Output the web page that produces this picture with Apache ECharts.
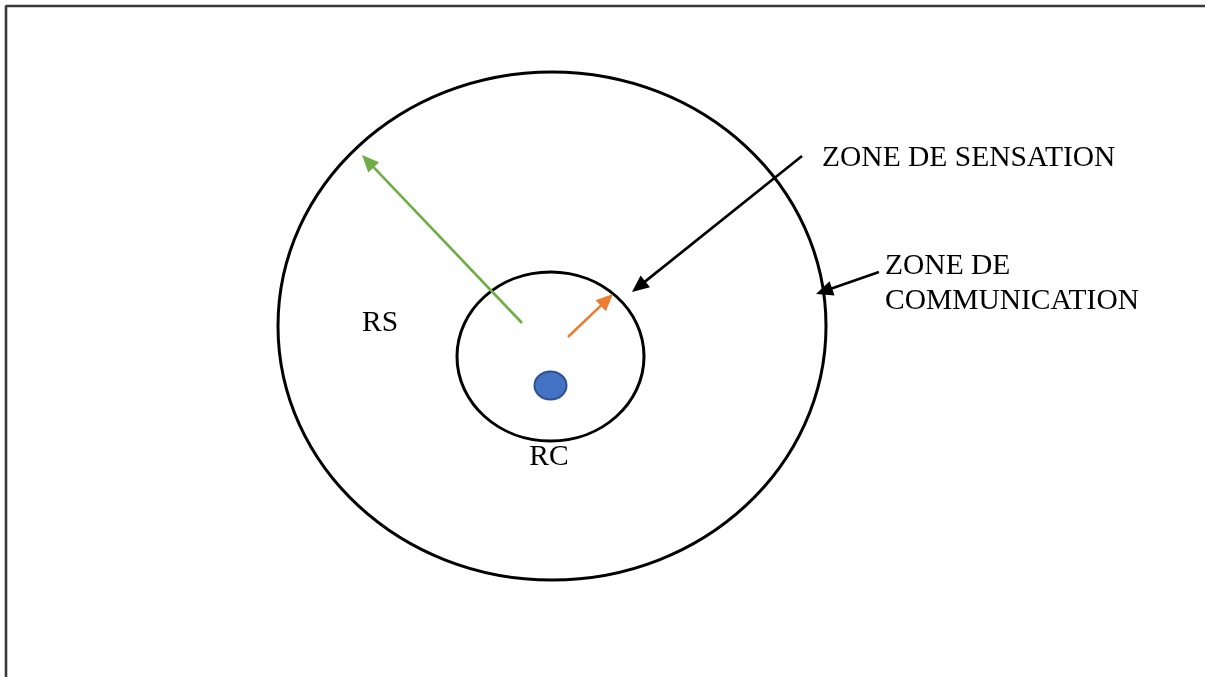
<!DOCTYPE html>
<html>
<head>
<meta charset="utf-8">
<script src="https://cdn.jsdelivr.net/npm/echarts@6/dist/echarts.min.js"></script>
<style>
    html, body { margin: 0; padding: 0; background: #fff; }
    #chart { width: 1205px; height: 677px; }
</style>
</head>
<body>
<div id="chart"></div>
<script>
// zones : [cx, cy, rx, ry] dans le repère de la page
const zoneNames = ['COMMUNICATION', 'SENSATION']
const zoneEllipses = [
    [552, 326, 274, 254],
    [550.5, 356.5, 93.5, 84.5],
]
// noeud capteur
const nodePoint = [[550.5, 385.5, 16, 14]]
// flèches : [x1, y1, x2, y2, couleur]
const arrowLines = [
    [522, 323, 362, 155, '#70AD47'],
    [568, 337, 613, 294, '#ED7D31'],
    [802, 156, 632, 292, '#000000'],
    [879, 272, 816, 294, '#000000'],
]
// textes : [x, y, texte, alignement]
const labelItems = [
    [822, 158.5, 'ZONE DE SENSATION', 'left'],
    [885, 266.5, 'ZONE DE', 'left'],
    [885, 301.5, 'COMMUNICATION', 'left'],
    [362, 323, 'RS', 'left'],
    [549, 457.5, 'RC', 'center'],
]
// cadre : ligne gauche + ligne du haut
const frameLine = [[6, 677], [6, 6], [1205, 6]]

const FONT = '"Liberation Serif", "Times New Roman", serif'

/**
 * @description ellipse dessinée par les échelles de l'axe
 */
const renderEllipse = (style) => (params, api) => {
    const c = api.coord([api.value(0), api.value(1)])
    const s = api.size([api.value(2), api.value(3)])
    return {
        type: 'ellipse',
        shape: { cx: c[0], cy: c[1], rx: s[0], ry: s[1] },
        style,
    }
}

/**
 * @description flèche : trait + pointe triangulaire
 */
const renderArrow = (params, api) => {
    const p1 = api.coord([api.value(0), api.value(1)])
    const p2 = api.coord([api.value(2), api.value(3)])
    const color = arrowLines[params.dataIndex][4]
    const dx = p2[0] - p1[0]
    const dy = p2[1] - p1[1]
    const len = Math.sqrt(dx * dx + dy * dy)
    const ux = dx / len, uy = dy / len
    const headLen = 17, headW = 7.5
    const bx = p2[0] - ux * headLen
    const by = p2[1] - uy * headLen
    return {
        type: 'group',
        children: [
            {
                type: 'line',
                shape: { x1: p1[0], y1: p1[1], x2: bx + ux * 2, y2: by + uy * 2 },
                style: { stroke: color, lineWidth: 2.6 },
            },
            {
                type: 'polygon',
                shape: {
                    points: [
                        [p2[0], p2[1]],
                        [bx - uy * headW, by + ux * headW],
                        [bx + uy * headW, by - ux * headW],
                    ],
                },
                style: { fill: color },
            },
        ],
    }
}

const renderLabel = (params, api) => {
    const c = api.coord([api.value(0), api.value(1)])
    const item = labelItems[params.dataIndex]
    return {
        type: 'text',
        x: c[0],
        y: c[1],
        style: {
            text: item[2],
            fill: '#000',
            font: `29.5px ${FONT}`,
            align: item[3],
            verticalAlign: 'middle',
        },
    }
}

const myChart = echarts.init(document.getElementById('chart'))

const option = {
    backgroundColor: '#fff',
    animation: false,
    grid: { left: 0, right: 0, top: 0, bottom: 0 },
    xAxis: { type: 'value', min: 0, max: 1205, show: false },
    yAxis: { type: 'value', min: 0, max: 677, inverse: true, show: false },
    series: [
        {
            name: 'cadre',
            type: 'line',
            data: frameLine,
            symbol: 'none',
            lineStyle: { color: '#3a3a3a', width: 2.6 },
            silent: true,
        },
        {
            name: 'zones',
            type: 'custom',
            data: zoneEllipses,
            renderItem: renderEllipse({ fill: 'none', stroke: '#000', lineWidth: 3 }),
            silent: true,
        },
        {
            name: 'noeud',
            type: 'custom',
            data: nodePoint,
            renderItem: renderEllipse({ fill: '#4472C4', stroke: '#2F528F', lineWidth: 2 }),
            silent: true,
        },
        {
            name: 'fleches',
            type: 'custom',
            data: arrowLines.map(a => a.slice(0, 4)),
            renderItem: renderArrow,
            silent: true,
        },
        {
            name: 'textes',
            type: 'custom',
            data: labelItems.map(l => [l[0], l[1]]),
            renderItem: renderLabel,
            silent: true,
        },
    ],
}

myChart.setOption(option)
window.addEventListener('resize', () => {
    myChart.resize()
})
</script>
</body>
</html>
